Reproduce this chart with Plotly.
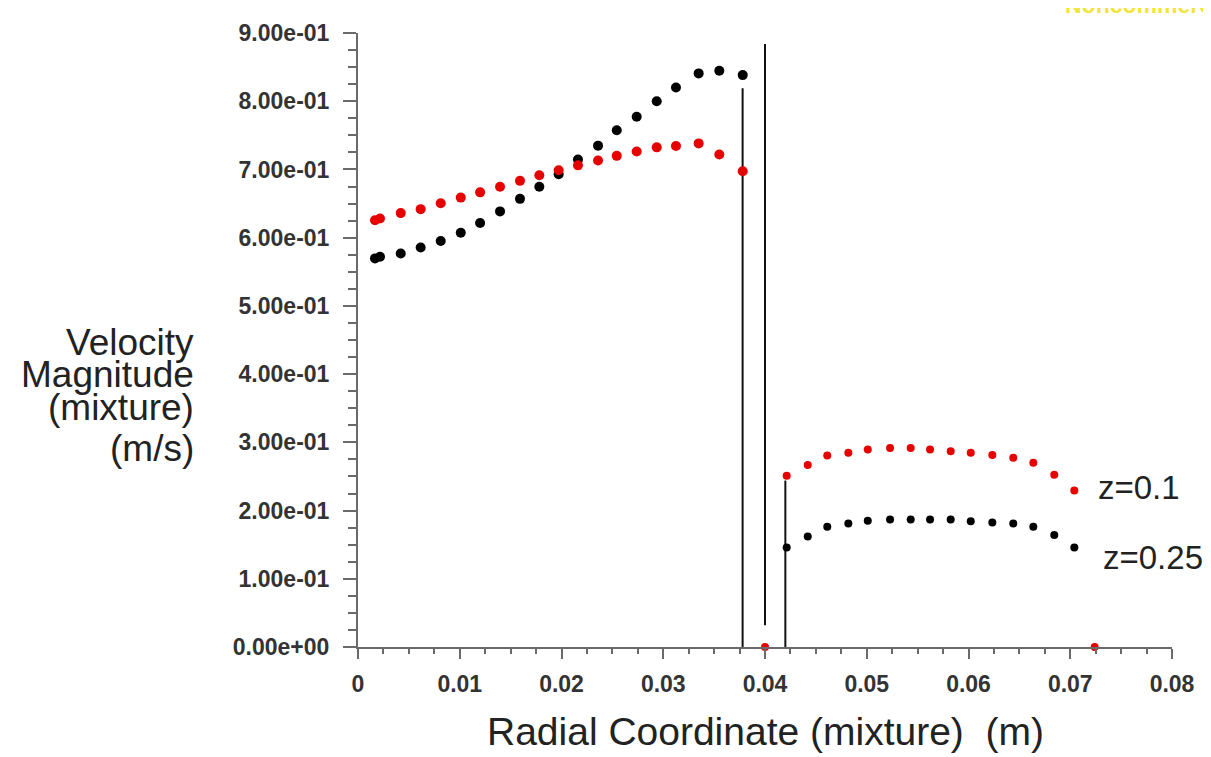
import plotly.graph_objects as go

# ---- data ----
radius_inner = [0.00167, 0.00216, 0.0042, 0.00616, 0.00813, 0.0101, 0.0120, 0.01396,
                0.01592, 0.01782, 0.01972, 0.02162, 0.02359, 0.02543, 0.02739, 0.02936,
                0.03125, 0.03348, 0.03551, 0.03781]
vel_z025_inner = [0.5696, 0.572, 0.5768, 0.5855, 0.5952, 0.6072, 0.6216, 0.6385, 0.6569,
                  0.6746, 0.693, 0.7147, 0.7349, 0.7574, 0.7772, 0.7999, 0.8201, 0.8408,
                  0.8447, 0.8383]
vel_z01_inner = [0.6255, 0.628, 0.636, 0.6418, 0.6505, 0.6587, 0.6664, 0.6746, 0.6833,
                 0.6915, 0.6988, 0.706, 0.7132, 0.7199, 0.7262, 0.7324, 0.7343, 0.7382,
                 0.7219, 0.6973]

radius_outer = [0.04213, 0.0442, 0.04612, 0.04819, 0.0501, 0.05229, 0.05432, 0.05622,
                0.05825, 0.06022, 0.06234, 0.0644, 0.06637, 0.06843, 0.0704]
vel_z01_outer = [0.2509, 0.2668, 0.2807, 0.2846, 0.2894, 0.2918, 0.2918, 0.2894, 0.287,
                 0.2846, 0.2813, 0.2774, 0.2701, 0.2524, 0.2293]
vel_z025_outer = [0.1459, 0.1618, 0.1762, 0.181, 0.1849, 0.1868, 0.1868, 0.1868, 0.1868,
                  0.1845, 0.1825, 0.181, 0.1762, 0.1643, 0.1459]

radius_wall_z01 = [0.0400, 0.0724]
vel_wall_z01 = [0.0, 0.0]

wall_x = [0.0378, 0.0400, 0.0420]
wall_y0 = [0.0, 0.032, 0.0]
wall_y1 = [0.819, 0.884, 0.244]

y_tickvals = [0.0, 0.1, 0.2, 0.3, 0.4, 0.5, 0.6, 0.7, 0.8, 0.9]
y_ticktext = ["0.00e+00", "1.00e-01", "2.00e-01", "3.00e-01", "4.00e-01",
              "5.00e-01", "6.00e-01", "7.00e-01", "8.00e-01", "9.00e-01"]
x_tickvals = [0, 0.01, 0.02, 0.03, 0.04, 0.05, 0.06, 0.07, 0.08]
x_ticktext = ["0", "0.01", "0.02", "0.03", "0.04", "0.05", "0.06", "0.07", "0.08"]

y_title_lines = ["Velocity", "Magnitude", "(mixture)", "(m/s)"]
x_title = "Radial Coordinate (mixture)\u00a0\u00a0(m)"
series_labels = ["z=0.1", "z=0.25"]
watermark = "Noncommercial"

RED = "#e60000"
BLACK = "#000000"
FONT = "Liberation Sans, Arial, sans-serif"

fig = go.Figure()

# wall lines
for xv, y0, y1 in zip(wall_x, wall_y0, wall_y1):
    fig.add_trace(go.Scatter(x=[xv, xv], y=[y0, y1], mode="lines",
                             line=dict(color="#111111", width=2),
                             hoverinfo="skip", showlegend=False, cliponaxis=False))

fig.add_trace(go.Scatter(x=radius_inner, y=vel_z025_inner, mode="markers",
                         marker=dict(color=BLACK, size=10), showlegend=False, cliponaxis=False))
fig.add_trace(go.Scatter(x=radius_inner, y=vel_z01_inner, mode="markers",
                         marker=dict(color=RED, size=10), showlegend=False, cliponaxis=False))
fig.add_trace(go.Scatter(x=radius_outer, y=vel_z025_outer, mode="markers",
                         marker=dict(color=BLACK, size=8), showlegend=False, cliponaxis=False))
fig.add_trace(go.Scatter(x=radius_outer, y=vel_z01_outer, mode="markers",
                         marker=dict(color=RED, size=8), showlegend=False, cliponaxis=False))
fig.add_trace(go.Scatter(x=radius_wall_z01, y=vel_wall_z01, mode="markers",
                         marker=dict(color=RED, size=8), showlegend=False, cliponaxis=False))

# page has an 8px body margin: the figure starts at (8, 8)
OFF = 8
PAGE_W, PAGE_H = 1211, 757
W, H = PAGE_W - OFF, PAGE_H - OFF
# plot area in page pixels
PL, PR, PT, PB = 358, 1172, 24, 647
ML, MR, MT, MB = PL - OFF, W - (PR - OFF), PT - OFF, H - (PB - OFF)
PW = PR - PL
PH = PB - PT

def px_x(p):
    return (p - PL) / PW

def px_y(p):
    return (PB - p) / PH

annotations = []
line_centers = [338, 371, 404, 446]
for txt, yc in zip(y_title_lines, line_centers):
    annotations.append(dict(text=txt, xref="paper", yref="paper", x=px_x(196), y=px_y(yc),
                            xanchor="right", yanchor="middle", showarrow=False,
                            font=dict(family=FONT, size=37, color="#222222")))
annotations.append(dict(text=x_title, xref="paper", yref="paper", x=px_x(765), y=px_y(733),
                        xanchor="center", yanchor="middle", showarrow=False,
                        font=dict(family=FONT, size=39, color="#222222")))
annotations.append(dict(text=series_labels[0], xref="paper", yref="paper", x=px_x(1096), y=px_y(485),
                        xanchor="left", yanchor="middle", showarrow=False,
                        font=dict(family=FONT, size=33, color="#222222")))
annotations.append(dict(text=series_labels[1], xref="paper", yref="paper", x=px_x(1101), y=px_y(556),
                        xanchor="left", yanchor="middle", showarrow=False,
                        font=dict(family=FONT, size=33, color="#222222")))
annotations.append(dict(text=watermark, xref="paper", yref="paper", x=px_x(1063), y=px_y(-4),
                        xanchor="left", yanchor="middle", showarrow=False,
                        font=dict(family=FONT, size=23, color="#f2e53a", weight="bold")))

tick_font = dict(family=FONT, size=23, color="#333333", weight="bold")

fig.update_layout(
    width=W, height=H,
    margin=dict(l=ML, r=MR, t=MT, b=MB, pad=0),
    paper_bgcolor="white", plot_bgcolor="white",
    font=dict(family=FONT),
    annotations=annotations,
    xaxis=dict(range=[0, 0.08], tickmode="array", tickvals=x_tickvals, ticktext=x_ticktext,
               showgrid=False, zeroline=False, showline=True, linecolor="#6a6a6a", linewidth=2,
               ticks="outside", ticklen=10, tickwidth=2, tickcolor="#6a6a6a",
               tickfont=tick_font, ticklabelstandoff=5,
               minor=dict(tickmode="linear", tick0=0, dtick=0.0025, ticks="outside",
                          ticklen=5, tickwidth=1.5, tickcolor="#6a6a6a", showgrid=False)),
    yaxis=dict(range=[0, 0.9], tickmode="array", tickvals=y_tickvals, ticktext=y_ticktext,
               showgrid=False, zeroline=False, showline=True, linecolor="#6a6a6a", linewidth=2,
               ticks="outside", ticklen=13, tickwidth=2, tickcolor="#6a6a6a",
               tickfont=tick_font, ticklabelstandoff=9,
               minor=dict(tickmode="linear", tick0=0, dtick=0.025, ticks="outside",
                          ticklen=8, tickwidth=1.5, tickcolor="#6a6a6a", showgrid=False)),
)

fig.write_html("out.html")
